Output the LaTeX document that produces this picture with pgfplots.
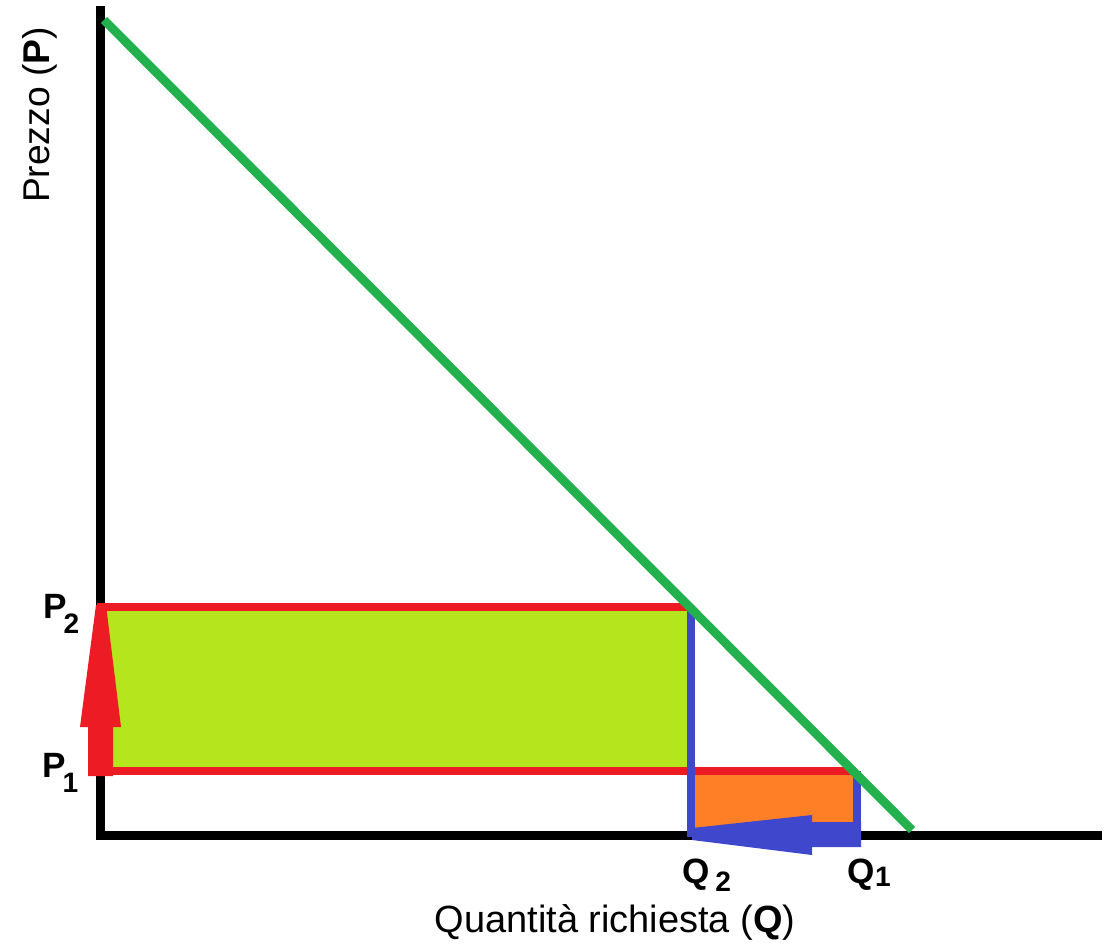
\documentclass[border=0pt]{standalone}
\usepackage{fontspec}
\setmainfont{Liberation Sans}
\usepackage{pgfplots}
\pgfplotsset{compat=1.18}
\definecolor{pgreen}{HTML}{22B14C}
\definecolor{plime}{HTML}{B5E61D}
\definecolor{pred}{HTML}{ED1C24}
\definecolor{pblue}{HTML}{3F48CC}
\definecolor{porange}{HTML}{FF7F27}
\newcommand{\sub}[1]{{\fontsize{8}{8}\selectfont\bfseries #1}}
\begin{document}
\begin{tikzpicture}
\begin{axis}[
  scale only axis,
  width=11.12cm, height=9.44cm,
  xmin=0, xmax=1112, ymin=0, ymax=944,
  y dir=reverse,
  axis lines=none,
  clip=false,
]
% keep the whole frame in the bounding box
\path (rel axis cs:0,0) rectangle (rel axis cs:1,1);
% shaded areas
\addplot[draw=none, fill=plime] coordinates {(100,607) (688,607) (688,771) (100,771)} -- cycle;
\addplot[draw=none, fill=porange] coordinates {(690,771) (857,771) (857,835) (690,835)} -- cycle;
% axes
\addplot[black, line width=2.56pt, line join=miter] coordinates {(100,6) (100,835) (1102,835)};
% price lines
\addplot[pred, line width=2.5pt] coordinates {(97,607) (688,607)};
\addplot[pred, line width=2.5pt] coordinates {(97,771) (856,771)};
% quantity lines
\addplot[pblue, line width=2.4pt] coordinates {(691,607) (691,837)};
\addplot[pblue, line width=2.4pt] coordinates {(857,771) (857,847)};
% arrows
\addplot[draw=none, fill=pred] coordinates {(96,605) (106,605) (121,727) (113,727) (113,776) (88,776) (88,727) (80,727)} -- cycle;
\addplot[draw=none, fill=pblue] coordinates {(692,828) (812,815) (812,822) (861,822) (861,847) (812,847) (812,855) (692,840)} -- cycle;
% demand curve
\addplot[pgreen, line width=2.5pt] coordinates {(104,20) (912,830)};
% labels
\node[anchor=base west, inner sep=0pt, font=\fontsize{10}{12}\selectfont\bfseries] at (axis cs:43,618) {P\hspace{-1pt}\raisebox{-4.3pt}{\sub{2}}};
\node[anchor=base west, inner sep=0pt, font=\fontsize{10}{12}\selectfont\bfseries] at (axis cs:42,777) {P\hspace{-1pt}\raisebox{-4.3pt}{\sub{1}}};
\node[anchor=base west, inner sep=0pt, font=\fontsize{10}{12}\selectfont\bfseries] at (axis cs:682,883) {Q\hspace{1.5pt}\raisebox{-2.5pt}{\sub{2}}};
\node[anchor=base west, inner sep=0pt, font=\fontsize{10}{12}\selectfont\bfseries] at (axis cs:847,883) {Q\raisebox{-1pt}{\sub{1}}};
\node[anchor=base, inner sep=0pt, font=\fontsize{10.8}{12}\selectfont] at (axis cs:615,932) {Quantità richiesta (\textbf{Q})};
\node[anchor=base, inner sep=0pt, rotate=90, font=\fontsize{10.6}{12}\selectfont] at (axis cs:49,115) {Prezzo (\textbf{P})};
\end{axis}
\end{tikzpicture}
\end{document}
